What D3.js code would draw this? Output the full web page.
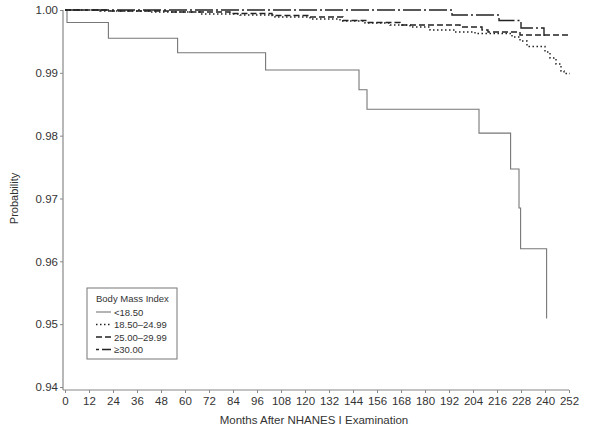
<!DOCTYPE html>
<html>
<head>
<meta charset="utf-8">
<script src="https://cdn.jsdelivr.net/npm/d3@7"></script>
<style>
  body { margin: 0; background: #fff; }
  text { font-family: "Liberation Sans", Arial, sans-serif; fill: #333; }
</style>
</head>
<body>
<div id="chart"></div>
<script>
// survival steps: [month, probability]
var bmiUnder = [[0,1.0],[1,0.998],[21.7,0.9955],[56.3,0.9932],[100.3,0.99045],[147,0.9873],[151,0.9842],[207,0.9804],[222.8,0.9747],[227,0.9685],[227.8,0.962],[240.8,0.9509],[240.8,0.9509]];
var bmiNormal = [[0,1.0],[17.5,0.99984],[42.5,0.99968],[67.5,0.99936],[87.5,0.9992],[105,0.99889],[122.5,0.99857],[137.5,0.99825],[150,0.99793],[162.5,0.99761],[172.5,0.99729],[182.5,0.99682],[195,0.9965],[205,0.99626],[223.5,0.9957],[227.5,0.99506],[231,0.99419],[240,0.99331],[242.5,0.99236],[245.5,0.9914],[248,0.99029],[249.5,0.98989],[252.5,0.98989]];
var bmiOver = [[0,1.0],[22.5,0.99984],[52.5,0.99968],[82.5,0.99944],[103.5,0.99912],[122.5,0.99889],[139,0.99833],[151,0.99801],[167.5,0.99761],[197.5,0.99729],[208.5,0.99682],[211.5,0.9965],[227.5,0.99602],[252,0.99602]];
var bmiObese = [[0,1.0],[193.5,0.9992],[217,0.99833],[228,0.99713],[239.5,0.99586],[239.5,0.99586]];

var seriesNames = ["<18.50", "18.50\u201324.99", "25.00\u201329.99", "\u226530.00"];
var xTicks = d3.range(0, 253, 12);
var yTicks = [0.94, 0.95, 0.96, 0.97, 0.98, 0.99, 1.00];

drawGraph();

function drawGraph() {
    var margin = {top: 10, right: 31, bottom: 46, left: 65},
        width = 600 - margin.left - margin.right,
        height = 433 - margin.top - margin.bottom;

    var x = d3.scaleLinear().domain([0, 252]).range([0, width]);
    var y = d3.scaleLinear().domain([0.94, 1.00]).range([height, 0]);

    var svg = d3.select("#chart").append("svg")
        .attr("width", 600)
        .attr("height", 433)
      .append("g")
        .attr("transform", "translate(" + margin.left + "," + margin.top + ")");

    // axes
    var yAxis = svg.append("g")
        .attr("transform", "translate(-2,0)")
        .call(d3.axisLeft(y).tickValues(yTicks).tickFormat(d3.format(".2f")).tickSize(3).tickSizeOuter(0));
    yAxis.select(".domain").attr("d", "M0," + (height + 3) + "V0");

    var xAxis = svg.append("g")
        .attr("transform", "translate(0," + (height + 3) + ")")
        .call(d3.axisBottom(x).tickValues(xTicks).tickFormat(d3.format("d")).tickSize(3).tickSizeOuter(0));
    xAxis.select(".domain").attr("d", "M-2,0H" + width);

    svg.selectAll(".domain").attr("stroke", "#888").attr("stroke-width", 1.2);
    svg.selectAll(".tick line").attr("stroke", "#888");
    svg.selectAll(".tick text").style("font-size", "11.5px").attr("fill", "#333");
    yAxis.selectAll(".tick text").attr("x", -5);
    xAxis.selectAll(".tick text").attr("y", 7);

    // axis titles
    svg.append("text")
        .attr("x", width / 2 - 3)
        .attr("y", height + 37)
        .attr("text-anchor", "middle")
        .style("font-size", "11.5px")
        .text("Months After NHANES I Examination");

    svg.append("text")
        .attr("transform", "translate(" + (-47) + "," + (height / 2) + ") rotate(-90)")
        .attr("text-anchor", "middle")
        .style("font-size", "11px")
        .text("Probability");

    var line = d3.line()
        .curve(d3.curveStepAfter)
        .x(function(d) { return x(d[0]); })
        .y(function(d) { return y(d[1]); });

    var styles = [
        {data: bmiUnder, color: "#777", width: 1.1, dash: null},
        {data: bmiNormal, color: "#222", width: 1.4, dash: "1.5,2.5"},
        {data: bmiOver, color: "#222", width: 1.4, dash: "6,3"},
        {data: bmiObese, color: "#222", width: 1.4, dash: "18,3,2,3"}
    ];

    styles.forEach(function(s) {
        svg.append("path")
            .datum(s.data)
            .attr("fill", "none")
            .attr("stroke", s.color)
            .attr("stroke-width", s.width)
            .attr("stroke-dasharray", s.dash)
            .attr("d", line);
    });

    // legend
    var lg = svg.append("g").attr("transform", "translate(" + (87 - margin.left) + "," + (288 - margin.top) + ")");
    lg.append("rect")
        .attr("width", 90).attr("height", 71)
        .attr("fill", "#fff").attr("stroke", "#777").attr("stroke-width", 1);
    lg.append("text")
        .attr("x", 9).attr("y", 14)
        .style("font-size", "9.5px")
        .text("Body Mass Index");
    var legendStyles = [{dash: null, color: "#777", width: 1.1}, {dash: "1.5,2.5", color: "#222", width: 1.4}, {dash: "6,3", color: "#222", width: 1.4}, {dash: "3,3,10,3", color: "#222", width: 1.4}];
    seriesNames.forEach(function(name, i) {
        var yy = 24 + i * 12.5;
        lg.append("line")
            .attr("x1", 9).attr("x2", 24)
            .attr("y1", yy).attr("y2", yy)
            .attr("stroke", legendStyles[i].color)
            .attr("stroke-width", legendStyles[i].width)
            .attr("stroke-dasharray", legendStyles[i].dash);
        lg.append("text")
            .attr("x", 27).attr("y", yy + 3.5)
            .style("font-size", "9.5px")
            .text(name);
    });
}
</script>
</body>
</html>
